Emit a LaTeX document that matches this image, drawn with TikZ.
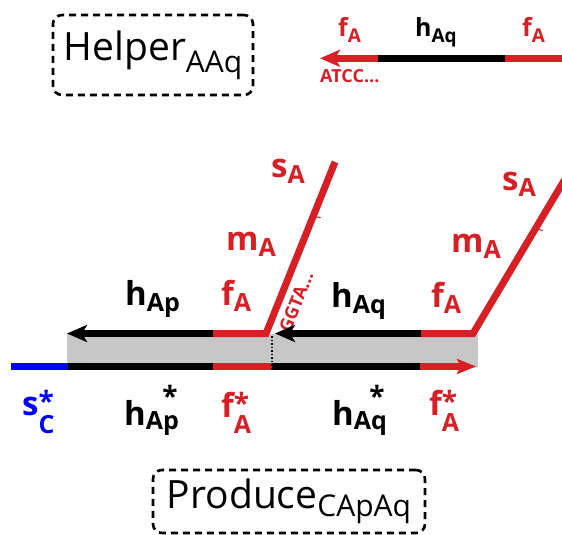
\documentclass[tikz,border=0pt]{standalone}
\usepackage{fontspec}
\setmainfont{Open Sans}
\usetikzlibrary{arrows.meta,positioning}
\definecolor{strandred}{RGB}{215,31,38}
\definecolor{strandblue}{RGB}{0,0,255}
\definecolor{duplexgray}{RGB}{199,199,199}
\newcommand{\lblfont}{\fontsize{33}{33}\selectfont\bfseries}
\newcommand{\toplblfont}{\fontsize{25}{25}\selectfont\bfseries}
\newcommand{\subfont}{\fontsize{25}{25}\selectfont\bfseries}
\newcommand{\topsubfont}{\fontsize{19}{19}\selectfont\bfseries}
\newcommand{\seqfont}{\fontsize{18}{18}\selectfont\bfseries}
\newcommand{\boxfont}{\fontsize{39}{39}\selectfont}
\newcommand{\boxsubfont}{\fontsize{30}{30}\selectfont}
\newcommand{\starmark}[1][0.12em]{\raisebox{#1}{\fontsize{28}{28}\selectfont *}}
% domain name: base letter with lowered subscript
\newcommand{\dname}[3][0.21em]{#2\raisebox{-#1}{\subfont #3}}
\newcommand{\topdname}[2]{#1\raisebox{-0.22em}{\topsubfont #2}}
% complementary domain: star on top, subscript dropped
\newcommand{\cdname}[4][0.5em]{#2\makebox[0pt][l]{#4}\raisebox{-#1}{\subfont #3}}
\tikzset{
  strand/.style={line width=7pt},
  tipleft/.style={-{Stealth[length=20pt,width=17pt,inset=5pt]}},
  tipright/.style={-{Stealth[length=19pt,width=15pt,inset=4pt]}},
  domlbl/.style={inner sep=0pt, anchor=base west, font=\lblfont},
  toplbl/.style={inner sep=0pt, anchor=base west, font=\toplblfont},
  seqlbl/.style={inner sep=1pt, font=\seqfont, text=strandred},
  gatebox/.style={draw, line width=2.6pt, dash pattern=on 7pt off 5pt,
    rounded corners=9pt, inner sep=0pt, font=\boxfont},
}

\begin{document}
\begin{tikzpicture}[x=1pt, y=-1pt]
  \useasboundingbox (0,0) rectangle (562,535);
  \clip (0,0) rectangle (562,535);

  % helper strand
  \coordinate (hTip) at (320,58.3);
  \coordinate (hF) at (378,58.3);
  \coordinate (hH) at (505,58.3);
  \coordinate (hEnd) at (575,58.3);
  \draw[strand, strandred, tipleft] (hF) -- (hTip);
  \draw[strand] (hF) -- (hH);
  \draw[strand, strandred] (hH) -- (hEnd);
  \node[toplbl, text=strandred] (hf1) at (338,37) {\topdname{f}{A}};
  \node[toplbl] (hh) at (415,37) {\topdname{h}{Aq}};
  \node[toplbl, text=strandred] (hf2) at (522,37) {\topdname{f}{A}};
  \node[seqlbl, anchor=base west, inner sep=0pt] (atcc) at (320,82) {ATCC...};

  \node[gatebox, minimum width=200pt, minimum height=80pt] (helper) at (153,55)
    {Helper\raisebox{-0.3em}{\boxsubfont AAq}};

  % duplex
  \fill[duplexgray] (67,333.5) rectangle (478,366.5);

  \coordinate (pTip) at (67,333.5);
  \coordinate (pF) at (213,333.5);
  \coordinate (pC) at (266,333.5);
  \coordinate (pS) at (335,162);
  \coordinate (qTip) at (275,333.5);
  \coordinate (qF) at (421,333.5);
  \coordinate (qC) at (473,333.5);
  \coordinate (qS) at (568,174);

  \draw[strand, tipleft] (pF) -- (pTip);
  \draw[strand, strandred, miter limit=10] (pF) -- (pC)
    -- node[pos=0.22, sloped, below=6pt, seqlbl, inner sep=0pt] (ggta) {GGTA...}
       coordinate[pos=0.684] (pTick) (pS);
  \draw[strand, tipleft] (qF) -- (qTip);
  \draw[strand, strandred, miter limit=10] (qF) -- (qC)
    -- coordinate[pos=0.66] (qTick) (qS);
  \draw[strandred, line width=1pt] (pTick) -- ++(7.5,1.5);
  \draw[strandred, line width=1pt] (qTick) -- ++(7,2.5);

  \coordinate (cEnd) at (11,366.5);
  \coordinate (cS) at (68,366.5);
  \coordinate (cF1) at (213,366.5);
  \coordinate (cH2) at (272,366.5);
  \coordinate (cF2) at (420,366.5);
  \coordinate (cTip) at (476,366.5);
  \draw[strand, strandblue] (cEnd) -- (cS);
  \draw[strand] (cS) -- (cF1);
  \draw[strand, strandred] (cF1) -- (cH2);
  \draw[strand] (cH2) -- (cF2);
  \draw[strand, strandred, tipright] (cF2) -- (cTip);
  \draw[line width=1.5pt, dotted] (272,336) -- (272,370);

  % domain labels
  \node[domlbl] (hAp) at (125,305) {\dname{h}{Ap}};
  \node[domlbl, text=strandred] (fA1) at (221,305) {\dname{f}{A}};
  \node[domlbl, text=strandred] (mA1) at (226,250) {\dname{m}{A}};
  \node[domlbl, text=strandred] (sA1) at (271,177) {\dname{s}{A}};
  \node[domlbl] (hAq) at (331,307) {\dname{h}{Aq}};
  \node[domlbl, text=strandred] (fA2) at (431,307) {\dname{f}{A}};
  \node[domlbl, text=strandred] (mA2) at (451,252) {\dname{m}{A}};
  \node[domlbl, text=strandred] (sA2) at (502,190) {\dname{s}{A}};

  \node[domlbl, text=strandblue] (sC) at (22,415) {\cdname[0.55em]{s}{C}{\starmark}};
  \node[domlbl] (hApc) at (124,425) {\cdname[0.15em]{h}{Ap}{\hspace{0.5em}\starmark[0.55em]}};
  \node[domlbl, text=strandred] (fA1c) at (221,417) {\cdname{f}{A}{\starmark}};
  \node[domlbl] (hAqc) at (332,425) {\cdname[0.15em]{h}{Aq}{\hspace{0.47em}\starmark[0.55em]}};
  \node[domlbl, text=strandred] (fA2c) at (429,415) {\cdname{f}{A}{\starmark}};

  \node[gatebox, minimum width=272pt, minimum height=63pt] (produce) at (289,501.5)
    {Produce\raisebox{-0.2em}{\boxsubfont CApAq}};
\end{tikzpicture}
\end{document}
